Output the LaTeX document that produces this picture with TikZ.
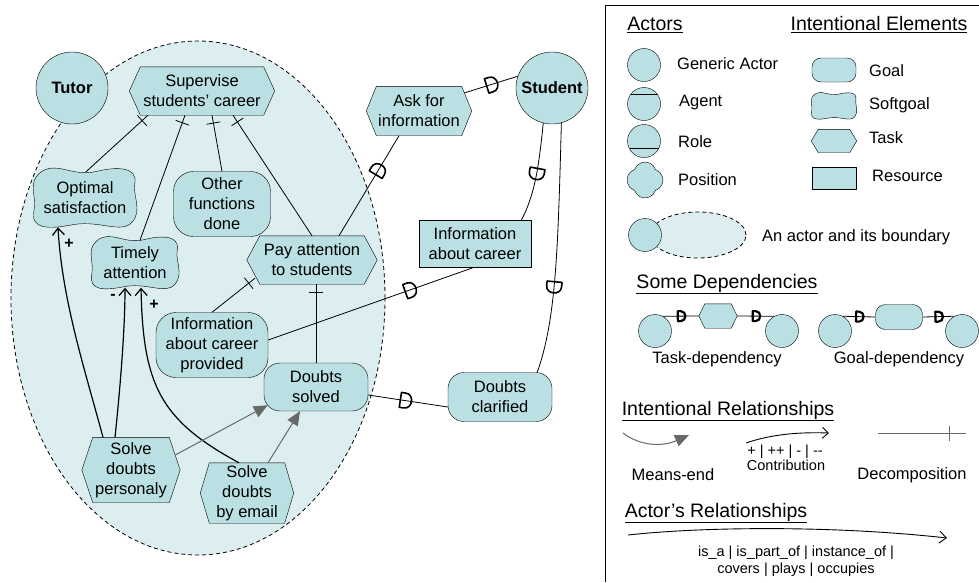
\documentclass[tikz,border=0pt]{standalone}
\usepackage{fontspec}
\setmainfont{Liberation Sans}
\usetikzlibrary{arrows.meta,decorations.markings,calc}
\pgfdeclarelayer{bnd}
\pgfdeclarelayer{shp}
\pgfsetlayers{bnd,shp,main}
\definecolor{elem}{RGB}{186,224,227}
\definecolor{bndc}{RGB}{220,238,240}
\definecolor{megray}{RGB}{105,105,105}
\tikzset{
  txt/.style={font=\fontsize{16.5}{20}\selectfont, align=center, inner sep=1pt},
  small/.style={font=\fontsize{14.5}{17}\selectfont, align=center, inner sep=1pt},
  head/.style={font=\fontsize{19.5}{22}\selectfont, inner sep=1pt},
  actor/.style={circle, draw, fill=elem, minimum size=72pt, inner sep=0pt, font=\fontsize{16.5}{20}\selectfont\bfseries},
  lact/.style={circle, draw, fill=elem, minimum size=33pt, inner sep=0pt},
  goal/.style={txt, draw, fill=elem, rounded corners=16pt},
  res/.style={txt, draw, fill=elem},
  blank/.style={txt},
  elemshape/.style={draw, fill=elem},
  bdry/.style={draw, dashed, dash pattern=on 4pt off 3pt, line width=0.8pt, fill=bndc},
  lab/.style={font=\fontsize{16}{18}\selectfont\bfseries, inner sep=0pt},
  dec/.style={line width=0.8pt, postaction={decorate, decoration={markings,
      mark=at position 8pt with {\draw[line width=0.8pt] (0pt,-7pt) -- (0pt,7pt);}}}},
  contr/.style={line width=1.2pt, -{Straight Barb[length=7pt,width=12pt]}},
  mend/.style={draw=megray, line width=1pt, -{Triangle[length=14pt,width=12pt]}},
  dep/.style={line width=0.8pt},
  dm/.style={postaction={decorate, decoration={markings,
      mark=at position #1 with {\draw[line width=1.6pt] (-4.5pt,-7.5pt) -- (-4.5pt,7.5pt) -- (0pt,7.5pt) .. controls (9pt,7.5pt) and (9pt,-7.5pt) .. (0pt,-7.5pt) -- cycle;}}}},
  dmr/.style={postaction={decorate, decoration={markings,
      mark=at position #1 with {\draw[line width=1.6pt] (4.5pt,-7.5pt) -- (4.5pt,7.5pt) -- (0pt,7.5pt) .. controls (-9pt,7.5pt) and (-9pt,-7.5pt) .. (0pt,-7.5pt) -- cycle;}}}},
  dsm/.style={postaction={decorate, decoration={markings,
      mark=at position #1 with {\draw[line width=2.2pt] (-3pt,-5pt) -- (-3pt,5pt) -- (0pt,5pt) .. controls (6pt,5pt) and (6pt,-5pt) .. (0pt,-5pt) -- cycle;}}}}
}
\newcommand\hexpath[2]{%
  \begin{pgfonlayer}{shp}
  \draw[elemshape] (#1.west) -- ([xshift=#2pt]#1.north west) -- ([xshift=-#2pt]#1.north east) -- (#1.east) -- ([xshift=-#2pt]#1.south east) -- ([xshift=#2pt]#1.south west) -- cycle;
  \end{pgfonlayer}}
\newcommand\sgpath[3]{%
  \begin{pgfonlayer}{shp}
  \begin{scope}[shift={(#1.center)}, x=#2pt, y=#3pt]
  \draw[elemshape] (-0.85,0.85) .. controls (-0.55,1.25) and (-0.25,0.7) .. (0.2,0.88)
     .. controls (0.6,1.05) and (1.0,1.05) .. (0.95,0.5)
     .. controls (0.9,0.1) and (1.1,-0.4) .. (0.9,-0.8)
     .. controls (0.7,-1.2) and (0.3,-0.75) .. (-0.2,-0.88)
     .. controls (-0.7,-1.05) and (-1.05,-1.05) .. (-0.97,-0.4)
     .. controls (-0.92,0.1) and (-1.1,0.5) .. (-0.85,0.85) -- cycle;
  \end{scope}
  \end{pgfonlayer}}
\begin{document}
\begin{tikzpicture}[x=1pt,y=-1pt,line join=round]
\useasboundingbox (0,0) rectangle (979,582);

% ---------- boundary ----------
\begin{pgfonlayer}{bnd}
\draw[bdry] (198,298) ellipse [x radius=187pt, y radius=257pt];
\end{pgfonlayer}

% ---------- actors ----------
\node[actor] (tutor) at (72,88) {Tutor};
\node[actor] (student) at (552,88) {Student};

% ---------- elements ----------
\node[blank, minimum width=145pt, minimum height=48pt] (sup) at (202,91) {Supervise\\students’ career};
\hexpath{sup}{11}
\node[blank, minimum width=105pt, minimum height=60pt] (opt) at (85,198) {Optimal\\satisfaction};
\sgpath{opt}{52.5}{30}
\node[goal, minimum width=97pt, minimum height=65pt, rounded corners=20pt] (oth) at (222,204) {Other\\functions\\done};
\node[blank, minimum width=89pt, minimum height=53pt] (tim) at (135,263) {Timely\\attention};
\sgpath{tim}{44.5}{26.5}
\node[blank, minimum width=130pt, minimum height=48pt] (pay) at (312,260) {Pay attention\\to students};
\hexpath{pay}{13}
\node[blank, minimum width=105pt, minimum height=49pt] (ask) at (419,111) {Ask for\\information};
\hexpath{ask}{10}
\node[res, minimum width=112pt, minimum height=47pt] (info) at (475,244) {Information\\about career};
\node[goal, minimum width=112pt, minimum height=65pt, rounded corners=20pt] (prov) at (212,345) {Information\\about career\\provided};
\node[goal, minimum width=104pt, minimum height=48pt] (solv) at (316,387) {Doubts\\solved};
\node[blank, minimum width=98pt, minimum height=65pt] (sdp) at (131,470) {Solve\\doubts\\personaly};
\hexpath{sdp}{11}
\node[blank, minimum width=93pt, minimum height=60pt] (sde) at (247,493) {Solve\\doubts\\by email};
\hexpath{sde}{9}
\node[goal, minimum width=104pt, minimum height=49pt] (clar) at (500,397) {Doubts\\clarified};

% ---------- decompositions ----------
\draw[dec] ([xshift=-54pt]sup.south) -- ([xshift=1pt,yshift=-4pt]opt.north);
\draw[dec] ([xshift=-17pt]sup.south) -- ([xshift=5pt,yshift=-4pt]tim.north);
\draw[dec] ([xshift=10pt]sup.south) -- (oth.north);
\draw[dec] ([xshift=31pt]sup.south) -- (pay.north);
\draw[dec] ([xshift=-57pt,yshift=6pt]pay.south) -- (prov.north);
\draw[dec] ([xshift=4pt]pay.south) -- (solv.north);

% ---------- contributions ----------
\draw[contr] ([xshift=-28pt]sdp.north) .. controls (85,370) and (62,300) .. ([xshift=-27pt,yshift=1pt]opt.south);
\draw[contr] ([xshift=-16pt]sdp.north) .. controls (120,390) and (125,330) .. ([xshift=-10pt,yshift=2pt]tim.south);
\draw[contr] ([xshift=-8pt]sde.north) .. controls (160,420) and (143,385) .. ([xshift=6pt,yshift=2pt]tim.south);
\node[lab] (c1) at (69,244) {+};
\node[lab] (c2) at (113,297) {-};
\node[lab] (c3) at (154,305) {+};

% ---------- means-end ----------
\draw[mend] ([xshift=-5pt,yshift=15pt]sdp.east) -- ([xshift=4pt,yshift=6pt]solv.south west);
\draw[mend] ([xshift=21pt]sde.north) -- ([xshift=-16pt]solv.south);

% ---------- dependencies ----------
\draw[dep, dm=0.65] ([xshift=27pt]pay.north) -- ([xshift=-20pt]ask.south);
\draw[dep, dm=0.5] ([xshift=-7.5pt,yshift=18pt]ask.east) -- (student.161);
\draw[dep, dm=0.5] (student.256) .. controls (539,165) and (535,195) .. ([xshift=-10pt]info.north east);
\draw[dep, dmr=0.31] ([xshift=-2pt]info.south) -- ([yshift=5pt]prov.east);
\draw[dep, dm=0.65] (student.285) .. controls (558,250) and (556,320) .. ([xshift=-15pt]clar.north east);
\draw[dep, dm=0.46] ([yshift=-8pt]solv.east) -- ([yshift=-10pt]clar.west);

% ================= legend =================
\draw[line width=1pt] (979,5) -- (605,5) -- (605,582);
\node[head] (hact) at (655,25) {\underline{Actors}};
\node[head] (hint) at (879,25) {\underline{Intentional Elements}};

\node[lact] (ga) at (644,65) {};
\node[txt, anchor=west] (gat) at (676,64) {Generic Actor};
\node[lact] (ag) at (644,104) {};
\draw ([xshift=-13.5pt,yshift=9.5pt]ag.center) -- ([xshift=13.5pt,yshift=9.5pt]ag.center);
\node[txt, anchor=west] (agt) at (678,103) {Agent};
\node[lact] (ro) at (644,141) {};
\draw ([xshift=-14.5pt,yshift=-7.5pt]ro.center) -- ([xshift=14.5pt,yshift=-7.5pt]ro.center);
\node[txt, anchor=west] (rot) at (677,142) {Role};
\coordinate (po) at (645,180);
\begin{scope}[shift={(po)}, x=1pt, y=1pt]
\draw[elemshape] (10.45,10.45) arc[start angle=18.3, end angle=161.7, radius=11]
  arc[start angle=108.3, end angle=251.7, radius=11]
  arc[start angle=198.3, end angle=341.7, radius=11]
  arc[start angle=-71.7, end angle=71.7, radius=11] -- cycle;
\end{scope}
\node[txt, anchor=west] (pot) at (677,180) {Position};

\node[goal, minimum width=44pt, minimum height=24pt, rounded corners=9pt] (lg) at (834,70) {};
\node[txt, anchor=west] (lgt) at (868,71) {Goal};
\node[blank, minimum width=46pt, minimum height=27pt] (ls) at (834,106) {};
\sgpath{ls}{23}{13.5}
\node[txt, anchor=west] (lst) at (868,105) {Softgoal};
\node[blank, minimum width=45pt, minimum height=23pt] (lt) at (834,141) {};
\hexpath{lt}{7}
\node[txt, anchor=west] (ltt) at (868,138) {Task};
\node[res, minimum width=44pt, minimum height=22pt] (lr) at (834,178) {};
\node[txt, anchor=west] (lrt) at (871,176) {Resource};

\draw[bdry] (698,235) ellipse [x radius=48pt, y radius=23pt];
\node[lact] (lb) at (645,235) {};
\node[txt, anchor=west] (lbt) at (761,237) {An actor and its boundary};

\node[head] (hdep) at (727,284) {\underline{Some Dependencies}};
\node[lact] (d1) at (655,331) {};
\node[blank, minimum width=38pt, minimum height=24pt] (dt) at (718,316) {};
\hexpath{dt}{6}
\node[lact] (d2) at (782,331) {};
\draw[dep, dsm=0.5] (d1.62) -- (dt.west);
\draw[dep, dsm=0.5] (dt.east) -- (d2.118);
\node[txt] (dtl) at (717,359) {Task-dependency};
\node[lact] (d3) at (835,331) {};
\node[goal, minimum width=47pt, minimum height=25pt, rounded corners=10pt] (dg) at (899,317) {};
\node[lact] (d4) at (962,331) {};
\draw[dep, dsm=0.5] (d3.62) -- (dg.west);
\draw[dep, dsm=0.5] (dg.east) -- (d4.118);
\node[txt] (dgl) at (899,359) {Goal-dependency};

\node[head] (hir) at (728,411) {\underline{Intentional Relationships}};
\coordinate (me1) at (623,433);
\coordinate (me2) at (689,435);
\draw[mend] (me1) .. controls (640,446) and (662,447) .. (me2);
\node[txt] (mel) at (673,475) {Means-end};
\coordinate (co1) at (746,443);
\coordinate (co2) at (829,433);
\draw[line width=0.9pt, -{Straight Barb[length=6pt,width=11pt]}] (co1) .. controls (772,434) and (800,432) .. (co2);
\node[small] (col) at (785,452) {+ | ++ | - | \mbox{-}\mbox{-}};
\node[small] (cot) at (786,465) {Contribution};
\coordinate (de1) at (878,433);
\coordinate (de2) at (966,433);
\draw[draw=megray, line width=0.9pt] (de1) -- (de2);
\draw[draw=megray, line width=0.9pt] (949,426) -- (949,441);
\node[txt] (del) at (912,475) {Decomposition};

\node[head] (har) at (716,513) {\underline{Actor’s Relationships}};
\coordinate (ar1) at (628,535);
\coordinate (ar2) at (947,538);
\draw[line width=0.9pt, -{Straight Barb[length=7pt,width=12pt]}] (ar1) .. controls (700,527) and (830,525) .. (ar2);
\node[small] (arl) at (796,561) {is\_a | is\_part\_of | instance\_of |\\covers | plays | occupies};
\end{tikzpicture}
\end{document}
